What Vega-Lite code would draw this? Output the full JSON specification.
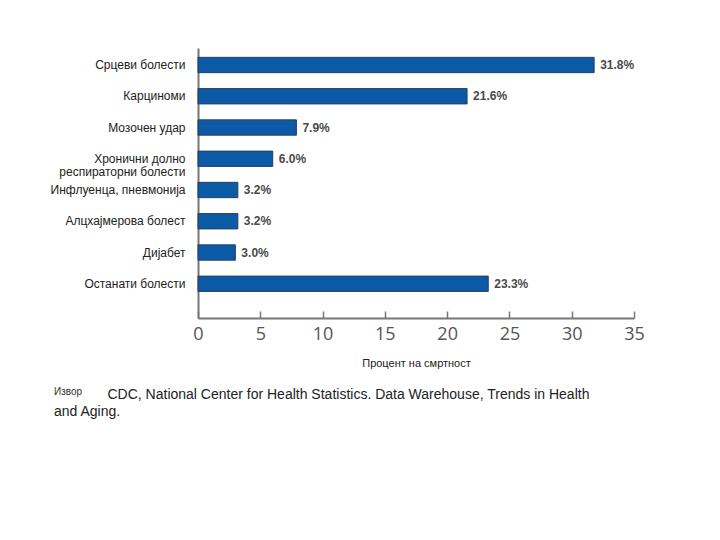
{
  "$schema": "https://vega.github.io/schema/vega-lite/v6.json",
  "width": 436,
  "height": 270,
  "autosize": {"type": "none"},
  "padding": {"left": 198, "top": 48, "right": 86, "bottom": 222},
  "background": "white",
  "title": {
    "text": "Извор",
    "subtitle": "and Aging.",
    "orient": "bottom",
    "anchor": "start",
    "frame": "group",
    "dx": -144,
    "offset": -14,
    "font": "Liberation Sans",
    "fontSize": 10,
    "fontWeight": "normal",
    "color": "#333333",
    "subtitleFont": "Liberation Sans",
    "subtitleFontSize": 14,
    "subtitleColor": "#222222",
    "subtitlePadding": 8
  },
  "data": {
    "values": [
      {"cause": "Срцеви болести", "pct": 31.8},
      {"cause": "Карциноми", "pct": 21.6},
      {"cause": "Мозочен удар", "pct": 7.9},
      {"cause": "Хронични долно респираторни болести", "pct": 6.0},
      {"cause": "Инфлуенца, пневмонија", "pct": 3.2},
      {"cause": "Алцхајмерова болест", "pct": 3.2},
      {"cause": "Дијабет", "pct": 3.0},
      {"cause": "Останати болести", "pct": 23.3}
    ]
  },
  "encoding": {
    "y": {
      "field": "cause",
      "type": "nominal",
      "sort": null,
      "scale": {"paddingInner": 0.51, "paddingOuter": 0.575, "align": 0.26},
      "axis": {
        "title": "CDC, National Center for Health Statistics. Data Warehouse, Trends in Health",
        "titleAngle": 0,
        "titleAlign": "left",
        "titleBaseline": "alphabetic",
        "titleX": -91,
        "titleY": 350,
        "titleFont": "Liberation Sans",
        "titleFontSize": 14,
        "titleFontWeight": "normal",
        "titleColor": "#222222",
        "ticks": false,
        "domainColor": "#777777",
        "domainWidth": 2,
        "labelFont": "Liberation Sans",
        "labelFontSize": 12,
        "labelColor": "#222222",
        "labelPadding": 13,
        "labelLimit": 300,
        "labelLineHeight": 13,
        "labelExpr": "datum.value === 'Хронични долно респираторни болести' ? ['Хронични  долно', 'респираторни болести'] : datum.value"
      }
    },
    "x": {
      "field": "pct",
      "type": "quantitative",
      "scale": {"domain": [0, 35], "nice": false},
      "axis": {
        "title": "Процент на смртност",
        "titleFont": "Liberation Sans",
        "titleFontSize": 11,
        "titleFontWeight": "normal",
        "titleColor": "#222222",
        "titlePadding": 14,
        "values": [0, 5, 10, 15, 20, 25, 30, 35],
        "grid": false,
        "domainColor": "#777777",
        "domainWidth": 2,
        "tickColor": "#777777",
        "tickWidth": 1.5,
        "tickSize": -7,
        "labelFont": "Open Sans",
        "labelFontSize": 18,
        "labelColor": "#555555",
        "labelPadding": 14,
        "labelFlush": false
      }
    }
  },
  "layer": [
    {
      "mark": {"type": "bar", "color": "#0b5aa6", "stroke": "#2a3f5f", "strokeWidth": 1}
    },
    {
      "transform": [{"calculate": "format(datum.pct, '.1f') + '%'", "as": "label"}],
      "mark": {"type": "text", "align": "left", "baseline": "middle", "dx": 6, "font": "Liberation Sans", "fontSize": 12, "fontWeight": "bold", "color": "#4a4a4a"},
      "encoding": {
        "text": {"field": "label", "type": "nominal"}
      }
    }
  ],
  "config": {"view": {"stroke": null}}
}
